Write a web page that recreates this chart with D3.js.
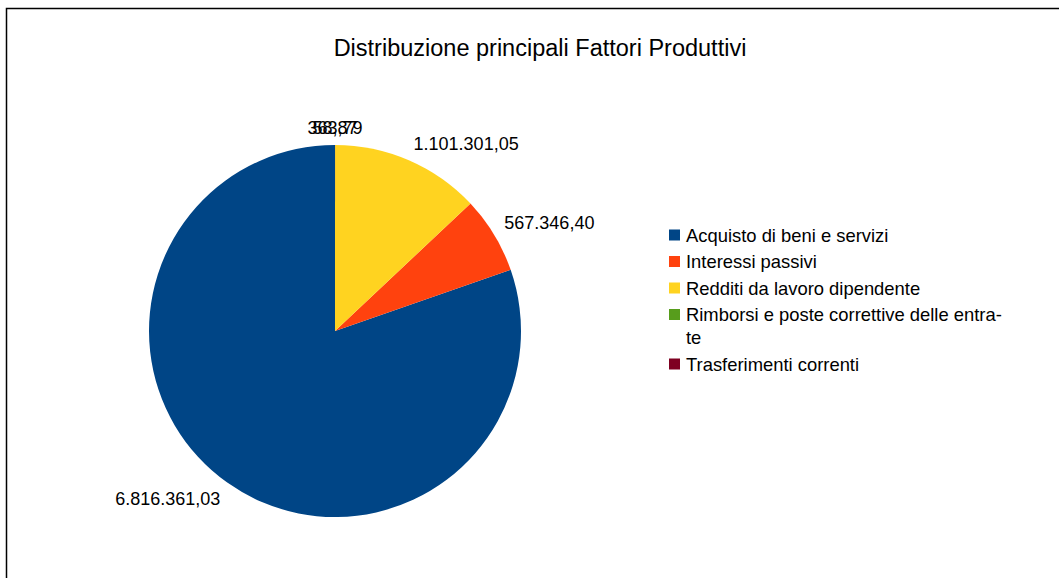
<!DOCTYPE html>
<html><head><meta charset="utf-8">
<script src="https://cdn.jsdelivr.net/npm/d3@7"></script>
<style>body{margin:0;background:#fff}svg{display:block}text{font-family:"Liberation Sans",Arial,sans-serif;fill:#000}</style>
</head><body><svg id="c" width="1059" height="578"></svg>
<script>
const title = "Distribuzione principali Fattori Produttivi";
const categories = ["Acquisto di beni e servizi","Interessi passivi","Redditi da lavoro dipendente","Rimborsi e poste correttive delle entrate","Trasferimenti correnti"];
const legendLines = [["Acquisto di beni e servizi"],["Interessi passivi"],["Redditi da lavoro dipendente"],["Rimborsi e poste correttive delle entra-","te"],["Trasferimenti correnti"]];
const values = [6816361.03, 567346.40, 1101301.05, 58.87, 363.79];
const colors = ["#004586","#ff420e","#ffd320","#579d1c","#7e0021"];

const svg = d3.select("#c");
svg.append("rect").attr("x",6.5).attr("y",8.5).attr("width",1200).attr("height",700)
  .attr("fill","#fff").attr("stroke","#000").attr("stroke-width",1.5);

svg.append("text").attr("x",540).attr("y",56).attr("text-anchor","middle")
  .style("font-size","23.5px").text(title);

const cx = 335, cy = 331, r = 186;
const fmt = v => {
  const s = v.toFixed(2).split(".");
  return s[0].replace(/\B(?=(\d{3})+(?!\d))/g, ".") + "," + s[1];
};
const pie = d3.pie().sort(null).startAngle(0).endAngle(-2*Math.PI);
const arcs = pie(values);
const arc = d3.arc().innerRadius(0).outerRadius(r);
const g = svg.append("g").attr("transform",`translate(${cx},${cy})`);
g.selectAll("path").data(arcs).join("path")
  .attr("d",arc).attr("fill",(d,i)=>colors[i]);

const lr = r + 12;
g.selectAll("text.lbl").data(arcs).join("text").attr("class","lbl")
  .each(function(d){
    const a = (d.startAngle + d.endAngle)/2;
    const sx = Math.sin(a), cyv = -Math.cos(a);
    const x = lr*sx, y = lr*cyv;
    const anchor = sx > 0.1 ? "start" : (sx < -0.1 ? "end" : "middle");
    const t = d3.select(this).attr("x",x).attr("text-anchor",anchor)
      .style("font-size","18px").text(fmt(d.data));
    if (cyv < 0) t.attr("y", y + 1);
    else t.attr("y", y + 13);
  });

// legend
const lg = svg.append("g");
let yy = 235;
legendLines.forEach((lines,i)=>{
  lg.append("rect").attr("x",669).attr("y",yy-5.5).attr("width",11).attr("height",11).attr("fill",colors[i]);
  const t = lg.append("text").attr("x",686).attr("y",yy+6.5).style("font-size","18.4px");
  lines.forEach((ln,j)=>{
    t.append("tspan").attr("x",686).attr("dy", j===0?0:23).text(ln);
  });
  yy += 26.5 + (lines.length-1)*23;
});
</script></body></html>
